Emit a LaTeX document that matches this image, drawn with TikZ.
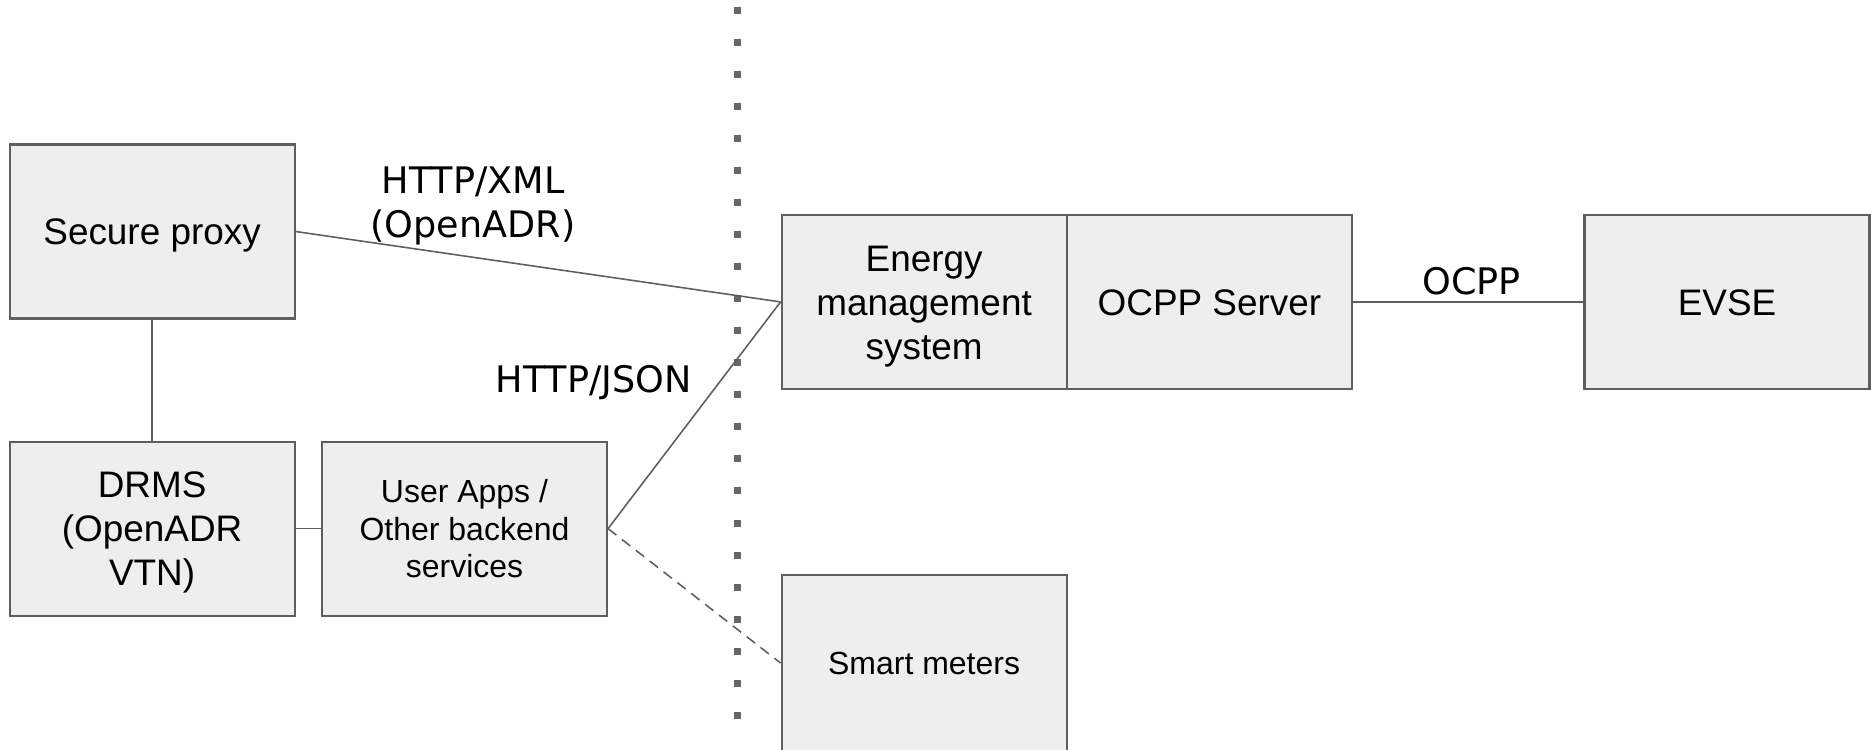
\documentclass[tikz,border=0pt]{standalone}
\usepackage{fontspec}
\setmainfont{Liberation Sans}
\newfontfamily\labelfont{DejaVu Sans}
\usetikzlibrary{positioning}

\definecolor{boxfill}{HTML}{EEEEEE}
\definecolor{boxline}{HTML}{5F5F5F}
\definecolor{dotgray}{HTML}{666666}

% invisible struts, so that the capitals sit in the middle of each box
\newcommand\boxstrut{\rule[-2.4pt]{0pt}{12.3pt}}
\newcommand\smallstrut{\rule[-2.1pt]{0pt}{10.7pt}}

\tikzset{
  box/.style={draw=boxline, fill=boxfill, line width=0.6pt, minimum width=2.85cm,
    minimum height=1.74cm, inner sep=0pt, align=center,
    font=\fontsize{10.5}{12.5}\selectfont},
  smallbox/.style={box, font=\fontsize{9.1}{10.7}\selectfont},
  link/.style={draw=boxline, line width=0.45pt},
  proto/.style={align=center, inner sep=0pt, font=\labelfont\fontsize{10.4}{12.5}\selectfont}
}

\begin{document}
\begin{tikzpicture}
	%%%%% START %%%%%
	\useasboundingbox (0,0) rectangle (18.71,-7.49);
	
	% border between the two sides
	\draw[dotgray, line width=0.07cm, dash pattern=on 0.07cm off 0.2503cm] (7.375,-0.07) -- (7.375,-7.19);
	
	\node[box] (proxy) at (1.521,-2.315) {\boxstrut Secure proxy};
	\node[box] (drms) at (1.521,-5.286) {\boxstrut DRMS\\(OpenADR\\\boxstrut VTN)};
	\node[smallbox] (apps) at (4.645,-5.286) {\smallstrut User Apps /\\Other backend\\\smallstrut services};
	
	\node[box] (ems) at (9.241,-3.019) {\boxstrut Energy\\management\\\boxstrut system};
	\node[box] (ocpp) at (12.094,-3.019) {\boxstrut OCPP Server};
	\node[box] (evse) at (17.27,-3.019) {\boxstrut EVSE};
	\node[smallbox, minimum height=1.76cm] (meters) at (9.241,-6.63) {\smallstrut Smart meters};
	
	\node[proto] (xml) at (4.73,-2.058) {HTTP/XML\\(OpenADR)};
	\node[proto] (json) at (5.936,-3.828) {HTTP/JSON};
	\node[proto] (ocpplabel) at (14.717,-2.815) {OCPP};
	
	\draw[link] (proxy.south) -- (drms.north);
	\draw[link] (drms.east) -- (apps.west);
	\draw[link] (proxy.east) -- (ems.west);
	\draw[link] (apps.east) -- (ems.west);
	\draw[link, dash pattern=on 3pt off 2pt] (apps.east) -- (meters.west);
	\draw[link] (ocpp.east) -- (evse.west);
	
	%%%%% END %%%%%
\end{tikzpicture}
\end{document}
